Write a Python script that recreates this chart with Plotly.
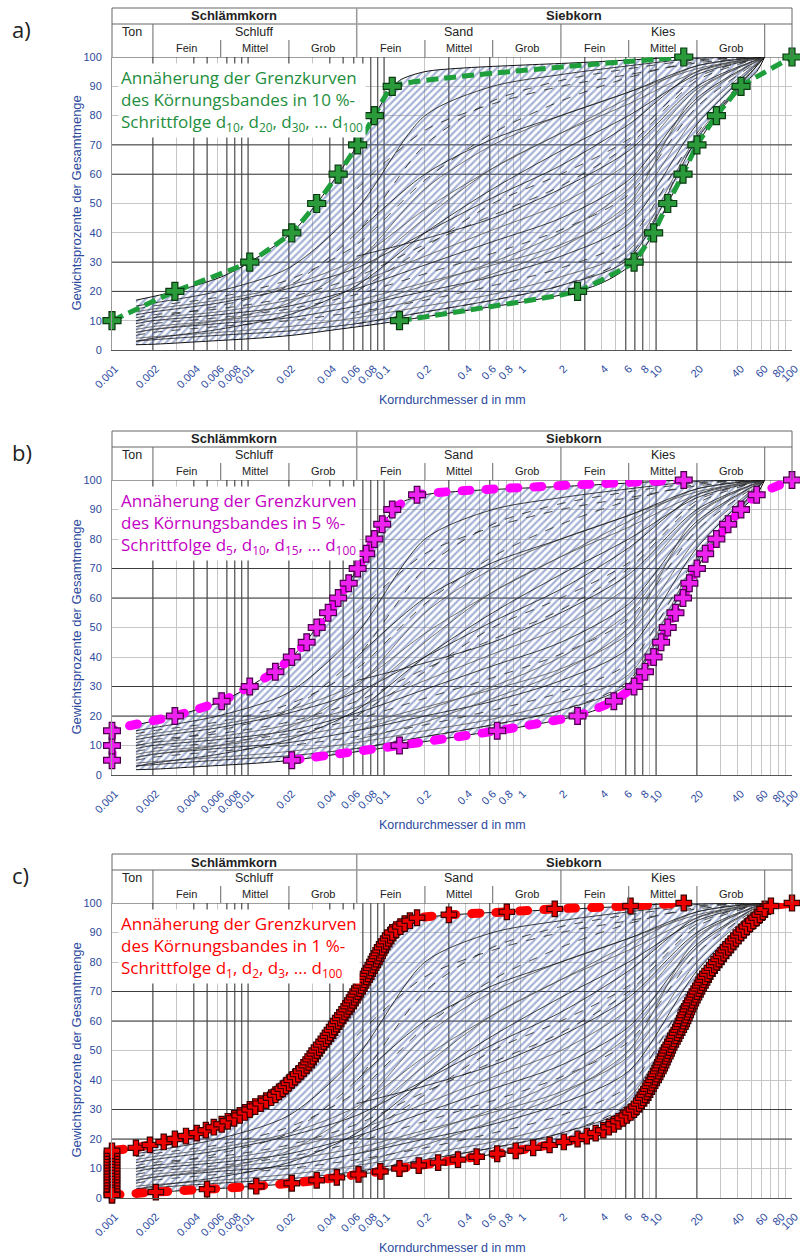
import math
import plotly.graph_objects as go

# ---------------------------------------------------------------- data
PERCENT = list(range(1, 101))

# d_k of the upper (fine) limit curve, k = 1 ... 100  [mm]
UPPER_D = [
    0.001, 0.001, 0.001, 0.001, 0.001, 0.001, 0.001, 0.001, 0.001, 0.001,
    0.001, 0.001, 0.001, 0.001, 0.001, 0.001, 0.0015, 0.0019, 0.0024, 0.0029,
    0.0035, 0.0042, 0.0049, 0.0056, 0.0064, 0.0071, 0.0079, 0.0087, 0.0095, 0.0103,
    0.0113, 0.0124, 0.0136, 0.0148, 0.0159, 0.0169, 0.0180, 0.0190, 0.0200, 0.0210,
    0.0222, 0.0234, 0.0246, 0.0258, 0.0270, 0.0279, 0.0289, 0.0299, 0.0310, 0.0320,
    0.0333, 0.0346, 0.0360, 0.0374, 0.0388, 0.0401, 0.0415, 0.0430, 0.0445, 0.0460,
    0.0477, 0.0494, 0.0512, 0.0531, 0.0550, 0.0567, 0.0585, 0.0603, 0.0621, 0.0640,
    0.0659, 0.0678, 0.0698, 0.0719, 0.0740, 0.0761, 0.0782, 0.0804, 0.0827, 0.0850,
    0.0873, 0.0896, 0.0920, 0.0945, 0.0970, 0.1003, 0.1037, 0.1073, 0.1110, 0.1150,
    0.123, 0.132, 0.142, 0.155, 0.175, 0.30, 0.80, 1.80, 6.5, 16.0,
]

# d_k of the lower (coarse) limit curve, k = 1 ... 100  [mm]
LOWER_D = [
    0.001, 0.0021, 0.0050, 0.0115, 0.021, 0.032, 0.045, 0.065, 0.094, 0.13,
    0.18, 0.25, 0.35, 0.48, 0.68, 0.93, 1.25, 1.65, 2.1, 2.65,
    3.1, 3.6, 4.1, 4.5, 4.9, 5.3, 5.7, 6.1, 6.5, 6.9,
    7.2, 7.5, 7.8, 8.05, 8.3, 8.55, 8.8, 9.05, 9.3, 9.6,
    9.85, 10.1, 10.4, 10.65, 10.9, 11.15, 11.4, 11.7, 11.95, 12.2,
    12.5, 12.85, 13.2, 13.55, 13.9, 14.3, 14.7, 15.1, 15.45, 15.8,
    16.15, 16.5, 16.85, 17.2, 17.6, 18.05, 18.5, 19.0, 19.5, 20.0,
    20.6, 21.2, 21.8, 22.4, 23.0, 23.9, 24.8, 25.8, 26.8, 27.8,
    28.9, 30.1, 31.3, 32.6, 33.9, 35.4, 37.0, 38.7, 40.4, 42.2,
    44.3, 46.6, 49.2, 52.0, 55.0, 58.0, 61.0, 63.0, 70.0, 100.0,
]

# outer boundaries of the grain-size band (hatched area)
BAND_UPPER_D = [0.0015, 0.0029, 0.0064, 0.0103, 0.021, 0.032, 0.046, 0.064, 0.085,
                0.105, 0.13, 0.2, 0.40, 1.0, 2.5, 6.5, 16.0, 63.0]
BAND_UPPER_P = [17, 20, 25, 30, 40, 50, 60, 70, 80, 87, 92, 95, 96.3, 97.2, 98, 99, 100, 100]
BAND_LOWER_D = [0.0015, 0.0021, 0.005, 0.0115, 0.021, 0.045, 0.094, 0.18, 0.48, 0.93,
                2.1, 3.6, 4.9, 6.9, 9.6, 12.2, 15.8, 20.0, 27.8, 42.2, 55.0, 63.0]
BAND_LOWER_P = [1.8, 2, 3, 4, 5, 7, 9, 11, 14, 16, 19, 22, 25, 30, 40, 50, 60, 70, 80,
                90, 95, 100]

# individual grading curves (percent passing at D_GRID)
D_GRID = [0.0015, 0.002, 0.006, 0.02, 0.063, 0.2, 0.63, 2.0, 6.3, 20.0, 63.0]
CURVES = [
    [15, 16, 20, 28, 48, 80, 90, 94, 97, 99.5, 100],
    [14, 15, 18, 24, 36, 58, 74, 85, 93, 98.5, 100],
    [13, 14, 17, 22, 31, 48, 62, 74, 86, 97, 100],
    [12, 13, 16, 21, 28, 40, 52, 63, 77, 95, 100],
    [11, 12, 14, 18, 25, 36, 46, 56, 70, 92, 100],
    [10, 11, 13, 17, 23, 32, 41, 50, 64, 89, 100],
    [9, 10, 12, 15, 21, 29, 37, 45, 58, 86, 100],
    [8, 9, 11, 14, 19, 26, 33, 41, 53, 83, 100],
    [7, 8, 10, 13, 17, 23, 29, 36, 48, 80, 100],
    [6, 7, 9, 11, 15, 20, 25, 32, 43, 77, 100],
    [5, 6, 8, 10, 13, 17, 22, 28, 38, 74, 100],
    [4, 4.5, 6, 8, 11, 15, 19, 25, 34, 73, 100],
    [3, 3.5, 5, 6.5, 9, 13, 17, 22, 31, 72, 100],
    [10, 11, 15, 22, 40, 70, 85, 92, 96, 99, 100],
    [6, 7, 10, 16, 30, 55, 70, 80, 88, 96, 100],
    [3, 4, 7, 12, 22, 40, 55, 68, 80, 94, 100],
    [None, None, None, None, 9, 13, 17, 22, 32, 72, 100],
    [None, None, None, None, 25, 45, 62, 74, 84, 95, 100],
    [None, None, None, None, 40, 60, 72, 80, 88, 97, 100],
    [None, None, None, None, 55, 75, 84, 90, 94, 98, 100],
    [None, None, None, None, 15, 22, 30, 40, 55, 85, 100],
    [None, None, None, None, 32, 38, 45, 55, 68, 90, 100],
    [None, None, None, None, 20, 35, 50, 60, 72, 93, 100],
    [None, None, None, None, 12, 18, 26, 35, 50, 88, 100],
]

X_TICKVALS = [0.001, 0.002, 0.004, 0.006, 0.008, 0.01, 0.02, 0.04, 0.06, 0.08, 0.1,
              0.2, 0.4, 0.6, 0.8, 1, 2, 4, 6, 8, 10, 20, 40, 60, 80, 100]
X_TICKTEXT = ["0.001", "0.002", "0.004", "0.006", "0.008", "0.01", "0.02", "0.04",
              "0.06", "0.08", "0.1", "0.2", "0.4", "0.6", "0.8", "1", "2", "4", "6",
              "8", "10", "20", "40", "60", "80", "100"]
X_MINOR = [m * 10 ** e for e in range(-3, 2) for m in range(1, 10)] + [100]
X_DARK = [0.002, 0.004, 0.005, 0.007, 0.008, 0.009, 0.01, 0.02, 0.04, 0.05, 0.06,
          0.07, 0.08, 0.09, 0.1, 0.3, 0.6, 3, 6, 7, 8, 10, 20]
Y_TICKS = list(range(0, 101, 10))
Y_DARK = [20, 30, 60, 70, 100]

# soil classification header (DIN 4022)
HEADER_ROW1 = [("Schlämmkorn", 0.001, 0.063), ("Siebkorn", 0.063, 100)]
HEADER_ROW2 = [("Ton", 0.001, 0.002), ("Schluff", 0.002, 0.063),
               ("Sand", 0.063, 2), ("Kies", 2, 63)]
HEADER_ROW3 = [("Fein", 0.002, 0.0063), ("Mittel", 0.0063, 0.02), ("Grob", 0.02, 0.063),
               ("Fein", 0.063, 0.2), ("Mittel", 0.2, 0.63), ("Grob", 0.63, 2),
               ("Fein", 2, 6.3), ("Mittel", 6.3, 20), ("Grob", 20, 63)]
HEADER_FULL_DIV = [0.063]
HEADER_ROW23_DIV = [0.002, 2, 63]
HEADER_ROW3_DIV = [0.0063, 0.02, 0.2, 0.63, 6.3, 20]

PANELS = [
    dict(label="a)", step=10, text="10 %-", subs=["10", "20", "30"],
         line="#1f9e3c", fill="#2a9a3a", edge="#0b3a12", tcolor="#1d8e3c",
         width=5, dash="12px,6px", msize=15, top=57, bottom=350),
    dict(label="b)", step=5, text="5 %-", subs=["5", "10", "15"],
         line="#ff00ff", fill="#ee22ee", edge="#4a004a", tcolor="#c400c4",
         width=9, dash="8px,16px", msize=14, top=480, bottom=775),
    dict(label="c)", step=1, text="1 %-", subs=["1", "2", "3"],
         line="#ff0000", fill="#ee0000", edge="#3a0000", tcolor="#ff0000",
         width=9, dash="8px,16px", msize=13, top=903, bottom=1198),
]

# ---------------------------------------------------------------- figure
W, H = 800, 1257
X_LEFT, X_RIGHT = 112, 792
BLUE = "#2c4a9e"
FONT = "Liberation Sans, Arial, sans-serif"

fig = go.Figure()
layout = dict(width=W, height=H, margin=dict(l=0, r=0, t=0, b=0, autoexpand=False),
              paper_bgcolor="white", plot_bgcolor="white", showlegend=False,
              font=dict(family=FONT, color="#222"))
annotations, shapes = [], []


def segs(vals, lo, hi, vertical):
    xs, ys = [], []
    for v in vals:
        if vertical:
            xs += [v, v, None]
            ys += [lo, hi, None]
        else:
            xs += [lo, hi, None]
            ys += [v, v, None]
    return xs, ys


for n, p in enumerate(PANELS, start=1):
    sfx = "" if n == 1 else str(n)
    xr, yr = "x" + sfx, "y" + sfx
    h = p["bottom"] - p["top"]
    layout["xaxis" + sfx] = dict(
        type="log", range=[-3, 2], domain=[X_LEFT / W, X_RIGHT / W], anchor=yr,
        automargin=False, ticklabeloverflow="allow",
        tickmode="array", tickvals=X_TICKVALS, ticktext=X_TICKTEXT, tickangle=-45,
        tickfont=dict(size=11, color=BLUE), showgrid=False, zeroline=False,
        showline=True, linecolor="#555", linewidth=1, ticks="",
        ticklabelstandoff=7, ticklabelshift=3,
        minor=dict(tickmode="array", tickvals=X_MINOR, showgrid=True,
                   gridcolor="#c6c6c6", gridwidth=1, ticks=""),
    )
    layout["yaxis" + sfx] = dict(
        range=[0, 100], domain=[1 - p["bottom"] / H, 1 - p["top"] / H], anchor=xr,
        automargin=False,
        tickmode="array", tickvals=Y_TICKS, tickfont=dict(size=11, color=BLUE),
        showgrid=True, gridcolor="#c6c6c6", zeroline=False, showline=True,
        linecolor="#999", ticks="", ticklabelstandoff=7,
    )

    common = dict(xaxis=xr, yaxis=yr, hoverinfo="skip", showlegend=False)
    gx, gy = segs(X_DARK, 0, 100, True)
    fig.add_trace(go.Scatter(x=gx, y=gy, mode="lines",
                             line=dict(color="#3c3c3c", width=1), **common))
    gx, gy = segs(Y_DARK, 0.001, 100, False)
    fig.add_trace(go.Scatter(x=gx, y=gy, mode="lines",
                             line=dict(color="#3c3c3c", width=1), **common))

    # hatched grain-size band
    fig.add_trace(go.Scatter(
        x=BAND_UPPER_D + BAND_LOWER_D[::-1], y=BAND_UPPER_P + BAND_LOWER_P[::-1],
        mode="lines", fill="toself", fillcolor="rgba(0,0,0,0)",
        fillpattern=dict(shape="/", fgcolor="#4d66ad", bgcolor="rgba(0,0,0,0)",
                         size=5, solidity=0.45),
        line=dict(width=0, shape="spline", smoothing=0.8), **common))

    # individual grading curves
    for i, c in enumerate(CURVES):
        xs = [d for d, v in zip(D_GRID, c) if v is not None]
        ys = [v for v in c if v is not None]
        style = i % 3
        fig.add_trace(go.Scatter(
            x=xs, y=ys, mode="lines",
            line=dict(color=["#111111", "#222222", "#505050"][style], width=0.8,
                      dash=["solid", "dash", "solid"][style],
                      shape="spline", smoothing=0.8), **common))
    for bx, by in ((BAND_UPPER_D, BAND_UPPER_P), (BAND_LOWER_D, BAND_LOWER_P)):
        fig.add_trace(go.Scatter(x=bx, y=by, mode="lines",
                                 line=dict(color="#111", width=1, shape="spline",
                                           smoothing=0.8), **common))

    # approximated limit curves (upper starts at d_step, lower where it enters)
    ks = [k for k in PERCENT if k % p["step"] == 0]
    for dd in (UPPER_D, LOWER_D):
        xs = [dd[k - 1] for k in ks]
        first = 0
        if dd is LOWER_D and p["step"] > 1 and xs[0] <= 0.001:
            first = [i for i, x in enumerate(xs) if x <= 0.001][-1] + 1
        fig.add_trace(go.Scatter(
            x=xs[first:], y=ks[first:], mode="lines",
            line=dict(color=p["line"], width=p["width"], dash=p["dash"],
                      shape="spline", smoothing=0.3), **common))
    for dd in (UPPER_D, LOWER_D):
        fig.add_trace(go.Scatter(
            x=[dd[k - 1] for k in ks], y=ks, mode="markers",
            marker=dict(symbol="cross", size=p["msize"], color=p["fill"],
                        line=dict(color=p["edge"], width=1.2)),
            cliponaxis=False, **common))

    # header
    def ydom(px_above):
        return 1 + px_above / h

    ydref = yr + " domain"
    xdref = xr + " domain"
    line_style = dict(color="#666", width=1)
    shapes.append(dict(type="line", xref=xdref, yref=ydref, x0=0, x1=1,
                       y0=ydom(49), y1=ydom(49), line=line_style))
    shapes.append(dict(type="line", xref=xdref, yref=ydref, x0=0, x1=1,
                       y0=ydom(33), y1=ydom(33), line=line_style))
    for xe in (0, 1):
        shapes.append(dict(type="line", xref=xdref, yref=ydref, x0=xe, x1=xe,
                           y0=1, y1=ydom(49), line=line_style))
    for v in HEADER_FULL_DIV:
        shapes.append(dict(type="line", xref=xr, yref=ydref, x0=v, x1=v,
                           y0=1, y1=ydom(49), line=dict(color="#999", width=1.5)))
    for v in HEADER_ROW23_DIV:
        shapes.append(dict(type="line", xref=xr, yref=ydref, x0=v, x1=v,
                           y0=1, y1=ydom(33), line=line_style))
    for v in HEADER_ROW3_DIV:
        shapes.append(dict(type="line", xref=xr, yref=ydref, x0=v, x1=v,
                           y0=1, y1=ydom(17), line=line_style))
    for rows, yy, size, bold in ((HEADER_ROW1, 41, 13, True), (HEADER_ROW2, 25, 12.5, False),
                                 (HEADER_ROW3, 9, 11, False)):
        for txt, a, b in rows:
            annotations.append(dict(
                text="<b>%s</b>" % txt if bold else txt, xref=xr, yref=ydref,
                x=(math.log10(a) + math.log10(b)) / 2, y=ydom(yy),
                showarrow=False, xanchor="center", yanchor="middle",
                font=dict(size=size, color="#222", family=FONT)))

    # axis titles
    annotations.append(dict(text="Korndurchmesser d in mm", xref=xdref, yref=ydref,
                            x=0.5, y=-50 / h, showarrow=False, xanchor="center",
                            yanchor="middle", font=dict(size=12.5, color=BLUE)))
    annotations.append(dict(text="Gewichtsprozente der Gesamtmenge", xref="paper",
                            yref=ydref, x=76 / W, y=0.5, textangle=-90,
                            showarrow=False, xanchor="center", yanchor="middle",
                            font=dict(size=13, color=BLUE)))
    # panel label
    annotations.append(dict(text=p["label"], xref="paper", yref="paper",
                            x=10 / W, y=1 - (p["top"] - 28) / H, showarrow=False,
                            xanchor="left", yanchor="middle",
                            font=dict(size=22, color="#222", family="Open Sans, sans-serif")))
    # explanatory text box
    s = p["subs"]
    box = ("Annäherung der Grenzkurven<br>des Körnungsbandes in %s<br>"
           "Schrittfolge d<sub>%s</sub>, d<sub>%s</sub>, d<sub>%s</sub>, ... d<sub>100</sub>"
           % (p["text"], s[0], s[1], s[2]))
    annotations.append(dict(text=box, xref=xdref, yref=ydref, x=0.009, y=1 - 6 / h,
                            xanchor="left", yanchor="top", align="left", showarrow=False,
                            bgcolor="white", borderpad=2,
                            font=dict(size=17, color=p["tcolor"],
                                      family="Open Sans, sans-serif")))

layout["annotations"] = annotations
layout["shapes"] = shapes
fig.update_layout(**layout)

post = """
document.body.style.margin = '0';
document.body.style.padding = '0';
var gd = document.getElementById('{plot_id}');
function rc(){ gd.querySelectorAll('path.js-line').forEach(function(p){
  if (parseFloat(p.style.strokeWidth) >= 8) { p.style.strokeLinecap = 'round'; } }); }
rc(); gd.on('plotly_afterplot', rc);
"""
fig.write_html("out.html", config={"displayModeBar": False}, post_script=post)
